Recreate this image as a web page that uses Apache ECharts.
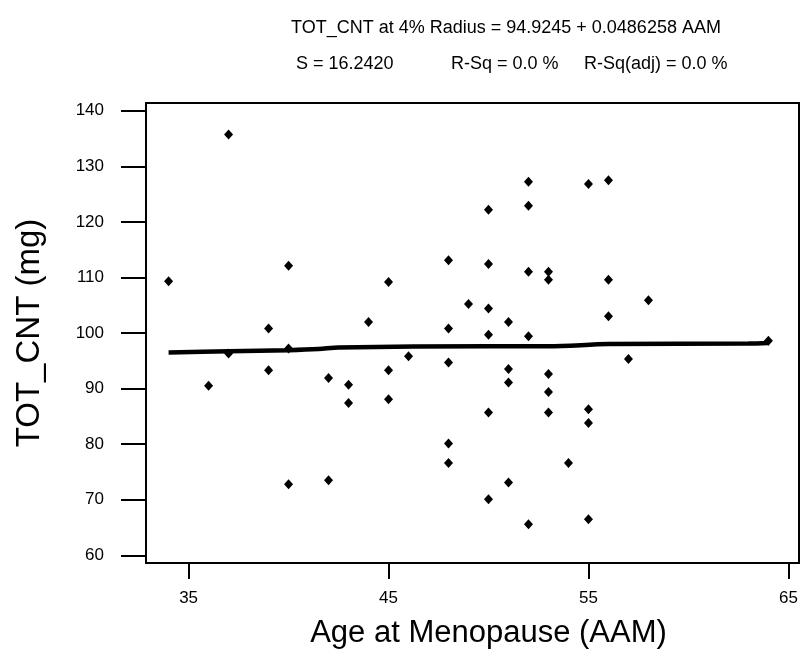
<!DOCTYPE html>
<html><head><meta charset="utf-8">
<script src="https://cdn.jsdelivr.net/npm/echarts@6/dist/echarts.min.js"></script>
<style>html,body{margin:0;padding:0;background:#fff}#c{width:801px;height:656px}</style>
</head><body><div id="c"></div>
<script>
// Scatter data: Age at Menopause (AAM) vs TOT_CNT (mg)
const ages = [34,36,37,37,39,39,40,40,40,42,42,43,43,44,45,45,45,46,48,48,48,48,48,49,
  50,50,50,50,50,50,51,51,51,51,52,52,52,52,52,53,53,53,53,53,54,55,55,55,55,56,56,56,57,58,64];
const values = [109.3,90.5,135.7,96.3,100.8,93.3,112.1,97.2,72.8,91.9,73.5,90.7,87.4,102.0,109.2,93.3,88.1,95.8,113.1,100.8,94.7,80.1,76.6,105.2,
  122.2,112.4,104.4,99.7,85.7,70.1,102.0,93.5,91.1,73.1,127.2,122.9,111.0,99.4,65.6,111.0,109.6,92.6,89.4,85.7,76.6,126.8,86.3,83.8,66.5,127.5,109.6,103.0,95.3,105.9,98.6];
// Fitted line as drawn in the picture
const fitAges = [34,37,40,41.5,42.5,50,53,56,63,64];
const fitValues = [96.5,96.7,96.9,97.1,97.4,97.6,97.6,98.0,98.1,98.2];
// Tick labels
const xTicks = [35,45,55,65];
const yTicks = [60,70,80,90,100,110,120,130,140];
// Texts
const titleLine1 = 'TOT_CNT at 4% Radius = 94.9245 + 0.0486258 AAM';
const statS = 'S = 16.2420';
const statR = 'R-Sq = 0.0 %';
const statRadj = 'R-Sq(adj) = 0.0 %';
const xName = 'Age at Menopause (AAM)';
const yName = 'TOT_CNT (mg)';

const FONT = "'Liberation Sans', Arial, sans-serif";
const chart = echarts.init(document.getElementById('c'), null, {renderer: 'canvas'});
const tStyle = {fontFamily: FONT, fontSize: 18, fontWeight: 'normal', color: '#000', lineHeight: 18};
chart.setOption({
  backgroundColor: '#fff',
  animation: false,
  title: [
    {text: titleLine1, left: 291, top: 19, padding: 0, textStyle: tStyle},
    {text: statS, left: 296, top: 55, padding: 0, textStyle: tStyle},
    {text: statR, left: 451, top: 55, padding: 0, textStyle: tStyle},
    {text: statRadj, left: 584, top: 55, padding: 0, textStyle: tStyle}
  ],
  grid: {left: 146, right: 2, top: 103, bottom: 93, show: true, borderColor: '#000', borderWidth: 2, containLabel: false},
  xAxis: {
    type: 'value', min: 32.87, max: 65.53,
    name: xName, nameLocation: 'middle', nameGap: 55,
    nameTextStyle: {fontFamily: FONT, fontSize: 31, color: '#000', padding: [0, 0, 0, 32]},
    axisLine: {onZero: false, lineStyle: {color: '#000', width: 2}},
    axisTick: {customValues: xTicks, length: 16, lineStyle: {color: '#000', width: 2}},
    axisLabel: {customValues: xTicks, margin: 27, fontFamily: FONT, fontSize: 17, color: '#000'},
    splitLine: {show: false}
  },
  yAxis: {
    type: 'value', min: 58.61, max: 141.39,
    name: yName, nameLocation: 'middle', nameGap: 100,
    nameTextStyle: {fontFamily: FONT, fontSize: 33, color: '#000'},
    axisLine: {onZero: false, lineStyle: {color: '#000', width: 2}},
    axisTick: {customValues: yTicks, length: 25, lineStyle: {color: '#000', width: 2}},
    axisLabel: {customValues: yTicks, margin: 42, fontFamily: FONT, fontSize: 17, color: '#000'},
    splitLine: {show: false}
  },
  series: [
    {
      type: 'line', data: fitAges.map((a, i) => [a, fitValues[i]]),
      showSymbol: false, smooth: 0.3,
      lineStyle: {color: '#000', width: 4.5}, z: 2
    },
    {
      type: 'scatter', data: ages.map((a, i) => [a, values[i]]),
      symbol: 'diamond', symbolSize: [9, 10],
      itemStyle: {color: '#000', opacity: 1}, z: 3
    }
  ]
});
</script>
</body></html>
